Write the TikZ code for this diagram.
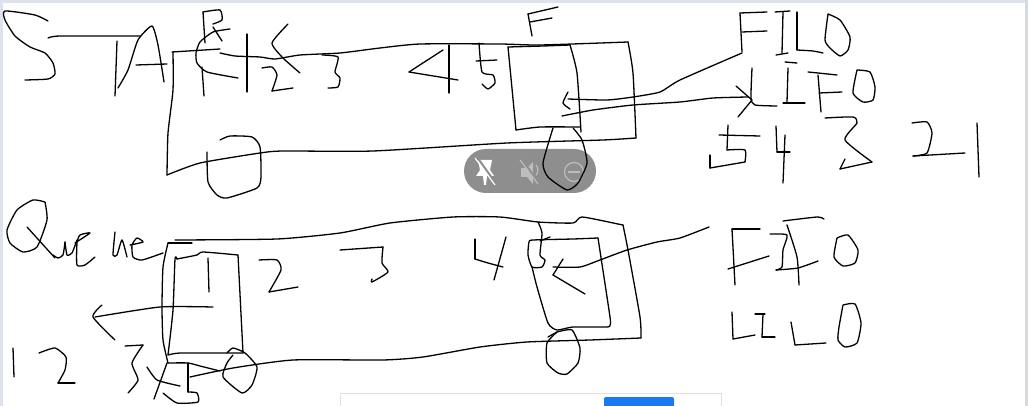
\documentclass[tikz,border=0pt]{standalone}
\definecolor{edgeblue}{HTML}{DCE3EC}
\definecolor{edgegrey}{HTML}{D6D9DE}
\definecolor{btnblue}{HTML}{1A7AF0}
\definecolor{pillgrey}{HTML}{8E8E8E}
\definecolor{iconlite}{HTML}{BDBDBD}
\tikzset{
  ink/.style={draw=black,line width=1.3pt,line cap=round,line join=round},
  pillicon/.style={draw=#1,line width=1.2pt},
}
\newcommand{\ink}[1]{\draw[ink] plot[smooth,tension=.35] coordinates {#1};}
\begin{document}
\begin{tikzpicture}[x=1pt,y=-1pt]
\useasboundingbox (0,0) rectangle (1028,406);
\fill[white] (0,0) rectangle (1028,406);
% window edges
\fill[edgeblue] (0,0) rectangle (1028,3);
\fill[edgeblue] (0,0) rectangle (3,406);
\fill[edgegrey] (1025,0) rectangle (1028,406);
% bottom toolbar
\filldraw[fill=white,draw=black!12,line width=.8pt] (340,393) rectangle (721,410);
\fill[btnblue,rounded corners=2pt] (604,397) rectangle (674,410);
% floating pill
\fill[pillgrey,rounded corners=22pt] (464,149) rectangle (596,193);
\fill[white] (478,160) -- (492,160) -- (490,170) -- (494,176) -- (487,176) -- (486,185) -- (484,185) -- (483,176) -- (476,176) -- (480,170) -- cycle;
\draw[pillgrey,line width=2pt] (477,157) -- (497,185);
\draw[white,line width=1.2pt] (475,158) -- (495,185);
\fill[iconlite] (521,168) -- (527,168) -- (533,162) -- (533,184) -- (527,177) -- (521,177) -- cycle;
\draw[pillgrey,line width=2pt] (522,160) -- (540,184);
\draw[pillicon=iconlite] (520,160) -- (538,184);
\draw[pillicon=iconlite] (536,165) arc (-40:40:8);
\draw[pillicon=iconlite] (574,172) circle (9.5);
\draw[pillicon=iconlite] (568,172) -- (580,172);
% STACK title
\ink{(48,21)(35,15)(5,11)(5,20)(15,36)(30,47)(45,53)(53,63)(55,74)(48,79)(25,80)}
\ink{(48,38)(60,36)(140,36)}
\ink{(117,41)(115,96)}
\ink{(118,88)(128,70)(138,40)(152,26)(158,45)(164,82)}
\ink{(136,65)(167,64)}
% stack outer body
\ink{(172,52)(220,49)}
\ink{(220,53)(235,56)(260,57)(275,59)(300,55)(340,53)(380,48)(420,44)(500,44)(540,45)(628,42)}
\ink{(628,42)(633,73)(636,138)}
\ink{(636,138)(603,140)(507,143)(373,151)(283,151)(260,153)(200,163)(167,175)}
\ink{(167,175)(168,133)(173,90)(173,52)}
% front / rear scribbles
\ink{(205,43)(203,12)}
\ink{(203,12)(220,10)(222,20)(213,24)}
\ink{(213,27)(222,41)}
\ink{(230,29)(213,32)(200,42)(196,53)(197,63)(207,72)(238,78)}
\ink{(202,67)(204,96)}
\ink{(247,34)(247,92)}
\ink{(288,24)(272,43)(283,58)(300,73)}
\ink{(262,68)(272,67)(277,75)(272,91)}
\ink{(272,91)(293,88)}
\ink{(322,55)(338,57)(335,72)(340,78)(338,87)(328,88)}
\ink{(220,140)(230,136)(252,137)(260,147)(261,177)(257,188)(227,198)(217,195)(208,182)(207,152)}
\ink{(443,50)(409,72)}
\ink{(409,72)(458,80)}
\ink{(449,45)(449,93)}
\ink{(479,43)(482,72)(493,75)(495,83)(488,89)(482,84)}
\ink{(476,61)(497,60)}
% stack inner box
\ink{(508,47)(543,46)(570,45)}
\ink{(570,45)(577,73)(581,132)}
\ink{(508,47)(516,130)}
\ink{(516,130)(540,127)(580,127)}
\ink{(558,7)(528,14)}
\ink{(528,14)(532,36)}
\ink{(530,22)(552,18)}
\ink{(553,128)(543,163)(548,177)(567,190)(578,183)(587,163)(582,140)(573,128)}
% FILO, LIFO arrows
\ink{(742,53)(680,80)(660,92)(633,97)(607,100)(568,99)}
\ink{(568,92)(563,103)(570,109)}
\ink{(562,116)(593,110)(633,105)(680,102)(713,98)(748,97)}
\ink{(736,86)(752,100)}
\ink{(752,100)(738,117)}
% FILO
\ink{(767,12)(740,13)}
\ink{(740,13)(742,52)}
\ink{(742,32)(767,31)}
\ink{(775,12)(790,11)}
\ink{(783,12)(782,53)}
\ink{(776,55)(788,53)}
\ink{(797,12)(797,50)}
\ink{(797,50)(813,51)(823,53)}
\ink{(828,14)(825,40)(830,48)(840,56)(848,50)(850,37)(840,20)(828,14)}
% LIFO
\ink{(752,68)(751,98)(755,105)(777,106)}
\ink{(785,62)(797,63)}
\ink{(788,68)(787,102)}
\ink{(783,103)(805,103)}
\ink{(808,72)(818,73)(837,75)}
\ink{(818,75)(821,112)}
\ink{(819,93)(842,92)}
\ink{(857,70)(853,93)(863,102)(873,100)(875,87)(870,72)(857,70)}
% 5 4 3 2 1
\ink{(728,125)(727,150)}
\ink{(727,150)(745,150)(745,162)}
\ink{(745,162)(710,168)}
\ink{(710,168)(710,155)}
\ink{(719,135)(760,136)}
\ink{(776,126)(777,152)}
\ink{(777,152)(790,152)}
\ink{(785,135)(783,183)}
\ink{(825,118)(853,117)(857,123)(845,140)(872,162)}
\ink{(872,162)(840,169)}
\ink{(840,169)(845,159)}
\ink{(912,123)(927,122)(932,133)(927,153)(913,156)}
\ink{(913,156)(965,153)}
\ink{(977,123)(979,177)}
% Queue title
\ink{(45,202)(33,200)(17,210)(7,230)(10,243)(23,252)(37,247)(47,220)(45,202)}
\ink{(27,227)(55,258)}
\ink{(53,255)(58,258)(63,255)(65,242)}
\ink{(65,242)(67,255)(72,253)(77,240)}
\ink{(75,243)(90,233)(80,235)(77,243)(77,265)(85,265)(95,257)}
\ink{(115,232)(113,255)(117,255)(122,240)(127,257)}
\ink{(130,245)(143,242)(137,238)(132,245)(133,257)(142,260)(163,253)}
% queue outer body
\ink{(175,240)(277,239)(340,233)(390,223)(453,217)(500,217)(538,222)(573,223)(582,217)(618,224)(623,225)}
\ink{(623,225)(628,250)(640,317)(641,338)}
\ink{(641,338)(590,340)(527,342)(480,347)(423,357)(383,360)(293,360)(233,368)(190,377)}
\ink{(192,243)(168,243)}
\ink{(168,243)(163,267)(162,307)(163,340)(168,363)}
\ink{(168,363)(188,363)(200,366)(220,371)}
\ink{(188,363)(188,392)}
\ink{(188,392)(197,393)(198,402)(177,403)(163,393)}
% queue inner box, numbers
\ink{(177,259)(197,255)(203,252)(238,255)}
\ink{(238,255)(243,353)}
\ink{(243,353)(230,353)(180,353)(168,355)}
\ink{(168,355)(173,310)(175,259)(177,259)}
\ink{(208,258)(209,292)}
\ink{(259,260)(277,260)(281,270)(269,292)}
\ink{(269,292)(298,287)}
\ink{(213,307)(160,307)(95,317)}
\ink{(102,305)(93,317)(115,340)}
\ink{(227,353)(233,348)(245,353)(257,367)(252,385)(242,393)(223,377)(227,363)(233,355)}
\ink{(13,348)(14,377)}
\ink{(39,353)(55,348)(66,357)(65,370)(58,383)}
\ink{(58,383)(75,383)}
\ink{(125,346)(143,345)}
\ink{(143,345)(132,363)(138,380)(128,393)}
\ink{(147,367)(157,380)(180,386)}
\ink{(167,363)(154,399)}
\ink{(340,250)(383,247)}
\ink{(383,247)(382,263)(388,272)(372,282)(372,279)}
\ink{(475,239)(475,259)}
\ink{(475,259)(488,263)(503,267)}
\ink{(506,237)(494,280)}
\ink{(538,222)(542,233)(540,255)(545,260)(542,267)(532,267)(528,255)(529,242)(533,240)(573,239)(598,238)}
\ink{(598,238)(610,317)(610,325)(607,327)(573,327)(557,330)(548,323)(537,287)(532,267)}
\ink{(540,241)(550,237)}
\ink{(548,337)(557,332)}
\ink{(709,227)(680,238)(657,242)(627,250)(600,260)(580,267)(553,267)}
\ink{(563,259)(553,275)}
\ink{(553,275)(585,294)}
\ink{(557,332)(572,330)(580,348)(578,363)(567,374)(558,373)(547,363)(547,343)(557,332)}
% FIFO
\ink{(760,229)(732,229)}
\ink{(732,229)(735,285)}
\ink{(728,269)(769,256)}
\ink{(770,234)(787,235)(783,250)(782,267)(776,270)}
\ink{(776,270)(798,268)(818,261)}
\ink{(787,225)(797,257)(799,285)}
\ink{(783,221)(817,217)(824,219)}
\ink{(837,238)(834,257)(843,266)(855,263)(858,250)(848,235)(837,238)}
% LILO
\ink{(732,312)(733,339)}
\ink{(733,339)(755,335)}
\ink{(755,314)(765,314)}
\ink{(763,314)(762,337)}
\ink{(762,337)(775,337)}
\ink{(791,322)(795,345)}
\ink{(795,345)(826,343)}
\ink{(843,305)(855,304)(861,323)(857,343)(845,347)(838,340)(839,327)(843,305)}
\end{tikzpicture}
\end{document}
